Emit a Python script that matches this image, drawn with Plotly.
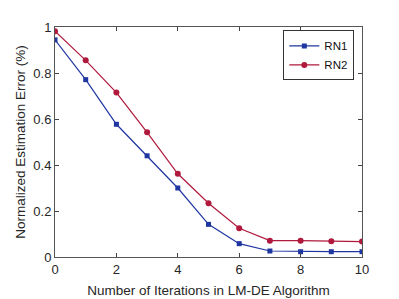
import plotly.graph_objects as go

iterations = [0, 1, 2, 3, 4, 5, 6, 7, 8, 9, 10]
rn1 = [0.944, 0.771, 0.577, 0.44, 0.30, 0.142, 0.058, 0.026, 0.023, 0.023, 0.023]
rn2 = [0.982, 0.855, 0.715, 0.542, 0.362, 0.234, 0.125, 0.071, 0.071, 0.068, 0.067]
x_ticks = [0, 2, 4, 6, 8, 10]
y_ticks = [0, 0.2, 0.4, 0.6, 0.8, 1]
y_tick_labels = ["0", "0.2", "0.4", "0.6", "0.8", "1"]

fig = go.Figure()
fig.add_trace(go.Scatter(x=iterations, y=rn1, name="RN1", mode="lines+markers",
                         line=dict(color="#1f35a0", width=1.2),
                         marker=dict(symbol="square", size=5, color="#1f35a0")))
fig.add_trace(go.Scatter(x=iterations, y=rn2, name="RN2", mode="lines+markers",
                         line=dict(color="#b0183c", width=1.2),
                         marker=dict(symbol="circle", size=6, color="#b0183c")))

font = dict(family="Liberation Sans, Arial, sans-serif", size=13, color="#262626")
fig.update_layout(
    width=399, height=299,
    margin=dict(l=44, r=45, t=15, b=50),
    paper_bgcolor="white", plot_bgcolor="white",
    font=font,
    showlegend=True,
    legend=dict(x=0.975, y=0.985, xanchor="right", yanchor="top",
                bordercolor="#333333", borderwidth=1, bgcolor="white",
                font=dict(family="Liberation Sans, Arial, sans-serif", size=11.5, color="#111"),
                tracegroupgap=0, itemwidth=30),
)
fig.update_xaxes(range=[0, 10], tickvals=x_ticks, ticks="inside", ticklen=4,
                 tickcolor="#444", showline=True, linecolor="#555", linewidth=1,
                 mirror="ticks", showgrid=False, zeroline=False,
                 title=dict(text="Number of Iterations in LM-DE Algorithm", standoff=9,
                            font=dict(size=13.5)),
                 tickfont=dict(size=13))
fig.update_yaxes(range=[0, 1], tickvals=y_ticks, ticktext=y_tick_labels, ticks="inside",
                 ticklen=4, tickcolor="#444", showline=True, linecolor="#555", linewidth=1,
                 mirror="ticks", showgrid=False, zeroline=False,
                 title=dict(text="Normalized Estimation Error (%)", standoff=4,
                            font=dict(size=13.5)),
                 tickfont=dict(size=13))

fig.write_html("out.html")
